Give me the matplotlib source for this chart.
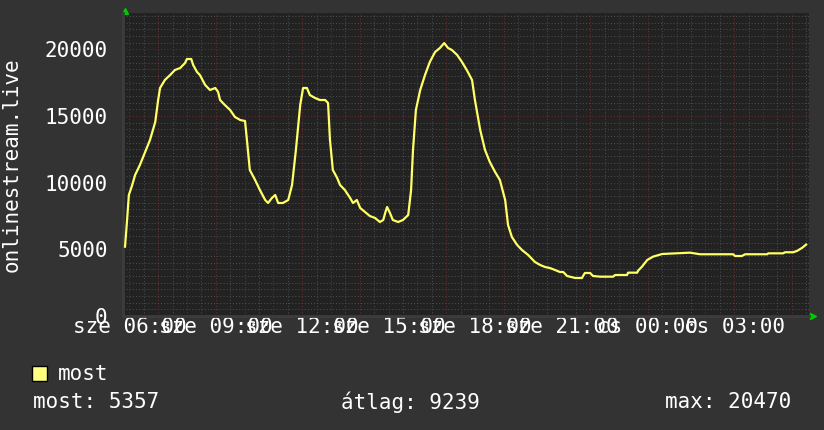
import matplotlib
matplotlib.use("Agg")
import matplotlib.pyplot as plt
from matplotlib.patches import Rectangle
from matplotlib.ticker import MultipleLocator

# nezoszam a nap folyaman (sze 05:51 -> cs 05:30)
times = [
    "05:51", "05:55", "05:59", "06:06", "06:12", "06:22", "06:33", "06:43",
    "06:54", "07:00", "07:04", "07:14", "07:25", "07:35", "07:46", "07:56",
    "08:00", "08:09", "08:13", "08:21", "08:27", "08:38", "08:48", "08:59",
    "09:05", "09:09", "09:19", "09:30", "09:40", "09:51", "10:01", "10:05",
    "10:11", "10:22", "10:32", "10:43", "10:49", "10:57", "11:04", "11:10",
    "11:20", "11:31", "11:39", "11:47", "11:56", "12:02", "12:10", "12:16",
    "12:27", "12:37", "12:48", "12:54", "12:58", "13:04", "13:13", "13:19",
    "13:29", "13:40", "13:46", "13:54", "14:01", "14:11", "14:21", "14:32",
    "14:42", "14:49", "14:53", "14:57", "15:03", "15:09", "15:20", "15:30",
    "15:41", "15:47", "15:51", "15:57", "16:06", "16:16", "16:26", "16:37",
    "16:47", "16:56", "17:04", "17:12", "17:23", "17:33", "17:43", "17:54",
    "18:00", "18:11", "18:21", "18:31", "18:42", "18:52", "19:03", "19:09",
    "19:17", "19:28", "19:38", "19:51", "20:05", "20:16", "20:26", "20:36",
    "20:47", "20:57", "21:04", "21:12", "21:29", "21:43", "21:49", "22:00",
    "22:06", "22:21", "22:48", "22:52", "23:17", "23:19", "23:38", "23:40",
    "23:48", "23:59", "00:11", "00:30", "01:28", "01:49", "02:58", "03:02",
    "03:16", "03:23", "04:09", "04:11", "04:42", "04:46", "05:03", "05:11",
    "05:22", "05:30",
]
viewers = [
    5200, 7050, 9075, 9825, 10575, 11325, 12300, 13200,
    14550, 16200, 17100, 17700, 18075, 18450, 18600, 18975,
    19275, 19275, 18825, 18300, 18075, 17325, 16950, 17100,
    16800, 16200, 15825, 15450, 14925, 14700, 14625, 13200,
    10950, 10200, 9450, 8700, 8475, 8850, 9075, 8475,
    8475, 8700, 9825, 12450, 15825, 17100, 17100, 16575,
    16350, 16200, 16200, 15975, 13200, 10950, 10350, 9825,
    9450, 8850, 8475, 8700, 8100, 7800, 7500, 7350,
    7050, 7200, 7725, 8175, 7725, 7200, 7050, 7200,
    7575, 9450, 12450, 15450, 16950, 18075, 19050, 19800,
    20100, 20470, 20100, 19950, 19575, 19050, 18450, 17700,
    16200, 13950, 12450, 11550, 10800, 10200, 8700, 6825,
    5925, 5325, 4950, 4575, 4050, 3825, 3675, 3600,
    3450, 3300, 3300, 3000, 2850, 2850, 3225, 3225,
    3000, 2950, 2950, 3075, 3075, 3250, 3250, 3400,
    3700, 4200, 4450, 4650, 4750, 4630, 4630, 4500,
    4500, 4630, 4630, 4700, 4700, 4780, 4780, 4880,
    5120, 5357,
]

tick_hours = [6, 9, 12, 15, 18, 21, 24, 27]
tick_labels = ["sze 06:00", "sze 09:00", "sze 12:00", "sze 15:00",
               "sze 18:00", "sze 21:00", "cs 00:00", "cs 03:00"]

series_name = "most"
stat_now = 5357
stat_avg = 9239
stat_max = 20470


def to_hours(ts):
    # HH:MM -> ora, ejfel utan +24
    out, prev, day = [], -1.0, 0
    for t in ts:
        h, m = map(int, t.split(":"))
        v = h + m / 60 + day * 24
        if v < prev:
            day += 1
            v += 24
        prev = v
        out.append(v)
    return out


BACK = "#333333"
CANVAS = "#222222"
FONT = "#ffffff"
LINE = "#ffff66"

plt.rcParams["font.family"] = ["DejaVu Sans Mono"]
plt.rcParams["font.size"] = 15

W, H = 824, 430
fig = plt.figure(figsize=(W / 100, H / 100), dpi=100, facecolor=BACK)
ax = fig.add_axes([123 / W, 114 / H, 686 / W, 303 / H], facecolor=CANVAS)

x = to_hours(times)
ax.plot(x, viewers, color=LINE, linewidth=1.6, zorder=3)

ax.set_xlim(5.78, 29.6)
ax.set_ylim(0, 22725)

# racs: halvany szurke minden 30 perc / 500, piros minden ora / 5000
ax.xaxis.set_major_locator(MultipleLocator(1))
ax.xaxis.set_minor_locator(MultipleLocator(0.5))
ax.yaxis.set_major_locator(MultipleLocator(5000))
ax.yaxis.set_minor_locator(MultipleLocator(500))
ax.grid(which="minor", color="#4c4c4c", linestyle=(0, (1, 2)), linewidth=0.75)
ax.grid(which="major", color="#6e2c2c", linestyle=(0, (1, 2)), linewidth=0.75)
ax.set_axisbelow(True)

major_x = list(range(6, 30))
ax.set_xticks(major_x)
ax.set_xticklabels([tick_labels[tick_hours.index(h)] if h in tick_hours else ""
                    for h in major_x])
ax.set_yticks([0, 5000, 10000, 15000, 20000])
ax.set_yticklabels(["0", "5000", "10000", "15000", "20000"])
ax.tick_params(which="both", length=0, colors=FONT, labelsize=15)
ax.tick_params(axis="y", pad=11)
ax.tick_params(axis="x", pad=1)

for side in ("top", "right"):
    ax.spines[side].set_visible(False)
for side in ("left", "bottom"):
    ax.spines[side].set_color("#3c3c3c")
    ax.spines[side].set_linewidth(2)

# zold nyilak a tengelyek vegen
ax.plot([0.003], [1.008], marker="^", color="#00cc00", markersize=5,
        transform=ax.transAxes, clip_on=False)
ax.plot([1.006], [0.0], marker=">", color="#00cc00", markersize=5,
        transform=ax.transAxes, clip_on=False)

fig.text(12 / W, 1 - 165 / H, "onlinestream.live", rotation=90,
         ha="center", va="center", color=FONT, fontsize=15)

# jelmagyarazat
fig.patches.append(Rectangle((32 / W, 1 - 381 / H), 15 / W, 15 / H,
                             transform=fig.transFigure, facecolor="#ffff80",
                             edgecolor="black", linewidth=1))
fig.text(58 / W, 1 - 374 / H, series_name, ha="left", va="center",
         color=FONT, fontsize=15)
fig.text(33 / W, 1 - 402 / H, f"most: {stat_now}", ha="left", va="center",
         color=FONT, fontsize=15)
fig.text(341 / W, 1 - 402 / H, f"átlag: {stat_avg}", ha="left", va="center",
         color=FONT, fontsize=15)
fig.text(791 / W, 1 - 402 / H, f"max: {stat_max}", ha="right", va="center",
         color=FONT, fontsize=15)

fig.savefig("out.png", dpi=100, facecolor=BACK)
